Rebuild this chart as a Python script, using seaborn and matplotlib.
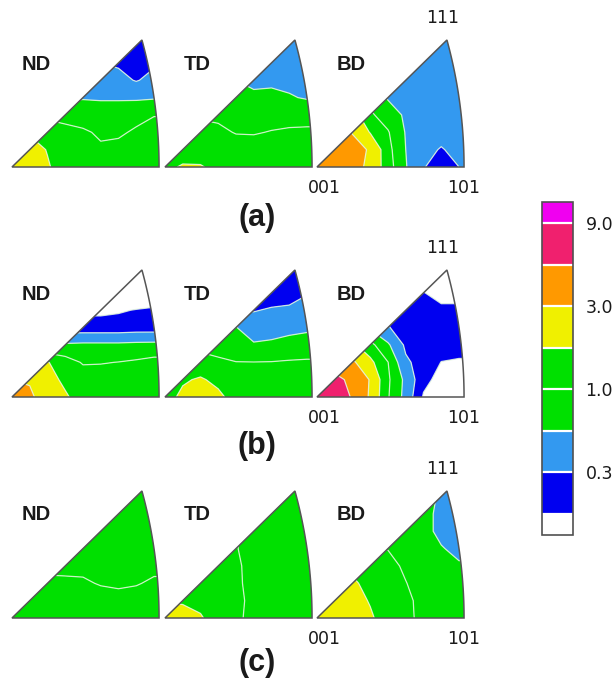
import numpy as np
import matplotlib
matplotlib.use("Agg")
import matplotlib.pyplot as plt
from matplotlib.patches import Polygon
import seaborn as sns

sns.set_theme(style="white")
plt.rcParams["font.family"] = ["Liberation Sans", "DejaVu Sans"]

# grid of the stereographic triangle (x along 001-101, y up to 111)
grid_x = [0.0, 0.05, 0.10, 0.15, 0.20, 0.25, 0.30, 0.35, 0.40, 0.45]
grid_y = [0.0, 0.05, 0.10, 0.15, 0.20, 0.25, 0.30, 0.35, 0.40]

levels = [0.17, 0.3, 0.55, 1.0, 1.7, 3.0, 5.2, 9.0]
level_colors = ["#ffffff", "#0000f0", "#3399f0", "#00e000", "#00e000",
                "#f0f000", "#ff9900", "#f0206e", "#f000f0"]
tick_values = [0.3, 1.0, 3.0, 9.0]
tick_labels = ["0.3", "1.0", "3.0", "9.0"]
row_labels = ["(a)", "(b)", "(c)"]
dir_labels = ["ND", "TD", "BD"]

# intensities, rows from y=0 upward
a_nd = [[2.5, 2.3, 1.8, 1.3, 1.2, 1.2, 1.2, 1.2, 1.1, 1.1],
        [2.5, 2.2, 1.65, 1.3, 1.2, 1.05, 1.1, 1.15, 1.2, 1.2],
        [1.6, 1.6, 1.3, 1.1, 1.05, 0.95, 0.95, 1.05, 1.1, 1.1],
        [0.9, 0.9, 0.9, 0.9, 0.85, 0.85, 0.85, 0.9, 0.99, 0.99],
        [0.5, 0.5, 0.5, 0.5, 0.52, 0.5, 0.5, 0.5, 0.52, 0.52],
        [0.4, 0.4, 0.4, 0.4, 0.4, 0.4, 0.35, 0.29, 0.35, 0.35],
        [0.3, 0.3, 0.3, 0.3, 0.3, 0.3, 0.28, 0.25, 0.28, 0.28],
        [0.22, 0.22, 0.22, 0.22, 0.22, 0.22, 0.22, 0.22, 0.22, 0.22],
        [0.22, 0.22, 0.22, 0.22, 0.22, 0.22, 0.22, 0.22, 0.22, 0.22]]
a_td = [[1.5, 1.8, 1.8, 1.4, 1.3, 1.3, 1.3, 1.3, 1.3, 1.3],
        [1.3, 1.3, 1.2, 1.2, 1.2, 1.2, 1.2, 1.2, 1.2, 1.2],
        [1.15, 1.15, 1.15, 1.08, 0.98, 0.97, 1.02, 1.04, 1.05, 1.05],
        [0.95, 0.95, 0.95, 0.93, 0.85, 0.85, 0.85, 0.9, 0.9, 0.9],
        [0.75, 0.75, 0.75, 0.75, 0.75, 0.62, 0.62, 0.58, 0.52, 0.5],
        [0.55, 0.55, 0.55, 0.55, 0.55, 0.48, 0.5, 0.47, 0.42, 0.42],
        [0.42, 0.42, 0.42, 0.42, 0.42, 0.42, 0.42, 0.42, 0.42, 0.42],
        [0.38, 0.38, 0.38, 0.38, 0.38, 0.38, 0.38, 0.38, 0.38, 0.38],
        [0.36, 0.36, 0.36, 0.36, 0.36, 0.36, 0.36, 0.36, 0.36, 0.36]]
a_bd = [[4.5, 4.3, 3.8, 2.6, 1.3, 0.57, 0.32, 0.18, 0.3, 0.4],
        [4.5, 4.2, 3.4, 2.9, 1.2, 0.55, 0.4, 0.28, 0.4, 0.42],
        [4.0, 4.0, 2.95, 1.65, 1.05, 0.53, 0.42, 0.42, 0.42, 0.42],
        [2.2, 2.2, 2.2, 1.1, 0.75, 0.5, 0.42, 0.42, 0.42, 0.42],
        [0.8, 0.8, 0.8, 0.8, 0.52, 0.45, 0.42, 0.42, 0.42, 0.42],
        [0.42, 0.42, 0.42, 0.42, 0.42, 0.42, 0.42, 0.42, 0.42, 0.42],
        [0.42, 0.42, 0.42, 0.42, 0.42, 0.42, 0.42, 0.42, 0.42, 0.42],
        [0.42, 0.42, 0.42, 0.42, 0.42, 0.42, 0.42, 0.42, 0.42, 0.42],
        [0.42, 0.42, 0.42, 0.42, 0.42, 0.42, 0.42, 0.42, 0.42, 0.42]]
b_nd = [[4.0, 3.3, 2.3, 1.8, 1.4, 1.35, 1.35, 1.35, 1.35, 1.35],
        [3.0, 2.85, 2.0, 1.55, 1.35, 1.3, 1.3, 1.3, 1.3, 1.3],
        [1.75, 1.75, 1.75, 1.3, 0.95, 0.97, 1.01, 1.08, 1.2, 1.2],
        [0.6, 0.6, 0.6, 0.6, 0.62, 0.62, 0.62, 0.64, 0.65, 0.65],
        [0.22, 0.22, 0.22, 0.22, 0.22, 0.22, 0.22, 0.23, 0.23, 0.23],
        [0.15, 0.15, 0.15, 0.15, 0.15, 0.15, 0.16, 0.175, 0.19, 0.2],
        [0.1, 0.1, 0.1, 0.1, 0.1, 0.1, 0.1, 0.1, 0.1, 0.1],
        [0.08, 0.08, 0.08, 0.08, 0.08, 0.08, 0.08, 0.08, 0.08, 0.08],
        [0.08, 0.08, 0.08, 0.08, 0.08, 0.08, 0.08, 0.08, 0.08, 0.08]]
b_td = [[1.4, 1.9, 2.0, 1.9, 1.4, 1.3, 1.3, 1.3, 1.3, 1.3],
        [1.3, 1.6, 1.8, 1.5, 1.3, 1.25, 1.25, 1.25, 1.25, 1.25],
        [1.3, 1.3, 1.25, 1.1, 1.02, 1.01, 1.02, 1.06, 1.08, 1.08],
        [0.85, 0.85, 0.85, 0.8, 0.58, 0.58, 0.6, 0.65, 0.7, 0.7],
        [0.6, 0.6, 0.6, 0.6, 0.56, 0.42, 0.45, 0.48, 0.5, 0.5],
        [0.5, 0.5, 0.5, 0.5, 0.3, 0.29, 0.32, 0.33, 0.38, 0.38],
        [0.3, 0.3, 0.3, 0.3, 0.3, 0.25, 0.22, 0.24, 0.29, 0.3],
        [0.2, 0.2, 0.2, 0.2, 0.2, 0.2, 0.2, 0.2, 0.2, 0.2],
        [0.2, 0.2, 0.2, 0.2, 0.2, 0.2, 0.2, 0.2, 0.2, 0.2]]
b_bd = [[7.5, 6.8, 5.0, 2.8, 1.05, 0.45, 0.16, 0.1, 0.1, 0.1],
        [7.0, 6.0, 4.6, 2.9, 1.1, 0.47, 0.2, 0.14, 0.13, 0.13],
        [4.0, 4.0, 3.3, 1.95, 1.01, 0.33, 0.24, 0.168, 0.16, 0.16],
        [1.9, 1.9, 1.9, 1.2, 0.6, 0.27, 0.23, 0.22, 0.21, 0.21],
        [0.5, 0.5, 0.5, 0.5, 0.31, 0.24, 0.23, 0.22, 0.22, 0.22],
        [0.26, 0.26, 0.26, 0.26, 0.26, 0.24, 0.22, 0.2, 0.2, 0.2],
        [0.22, 0.22, 0.22, 0.22, 0.22, 0.22, 0.175, 0.13, 0.13, 0.13],
        [0.1, 0.1, 0.1, 0.1, 0.1, 0.1, 0.1, 0.1, 0.1, 0.1],
        [0.1, 0.1, 0.1, 0.1, 0.1, 0.1, 0.1, 0.1, 0.1, 0.1]]
c_nd = [[1.3, 1.3, 1.3, 1.3, 1.3, 1.3, 1.3, 1.3, 1.3, 1.3],
        [1.2, 1.2, 1.2, 1.2, 1.2, 1.2, 1.2, 1.2, 1.2, 1.2],
        [1.1, 1.1, 1.1, 1.08, 1.06, 0.97, 0.92, 0.97, 1.07, 1.07],
        [0.9, 0.9, 0.9, 0.9, 0.9, 0.9, 0.9, 0.9, 0.9, 0.9],
        [0.8, 0.8, 0.8, 0.8, 0.8, 0.8, 0.8, 0.8, 0.8, 0.8],
        [0.75, 0.75, 0.75, 0.75, 0.75, 0.75, 0.75, 0.75, 0.75, 0.75],
        [0.7, 0.7, 0.7, 0.7, 0.7, 0.7, 0.7, 0.7, 0.7, 0.7],
        [0.7, 0.7, 0.7, 0.7, 0.7, 0.7, 0.7, 0.7, 0.7, 0.7],
        [0.7, 0.7, 0.7, 0.7, 0.7, 0.7, 0.7, 0.7, 0.7, 0.7]]
c_td = [[2.3, 2.1, 1.8, 1.3, 1.05, 0.93, 0.9, 0.88, 0.88, 0.88],
        [1.65, 1.6, 1.45, 1.25, 1.05, 0.95, 0.9, 0.9, 0.9, 0.9],
        [1.35, 1.35, 1.3, 1.2, 1.03, 0.95, 0.9, 0.88, 0.88, 0.88],
        [1.25, 1.25, 1.25, 1.15, 1.03, 0.94, 0.9, 0.88, 0.88, 0.88],
        [1.1, 1.1, 1.1, 1.1, 1.01, 0.93, 0.9, 0.9, 0.9, 0.9],
        [1.05, 1.05, 1.05, 1.05, 1.02, 0.92, 0.9, 0.9, 0.9, 0.9],
        [0.9, 0.9, 0.9, 0.9, 0.9, 0.9, 0.9, 0.9, 0.9, 0.9],
        [0.9, 0.9, 0.9, 0.9, 0.9, 0.9, 0.9, 0.9, 0.9, 0.9],
        [0.9, 0.9, 0.9, 0.9, 0.9, 0.9, 0.9, 0.9, 0.9, 0.9]]
c_bd = [[2.5, 2.3, 2.1, 1.8, 1.4, 1.1, 0.9, 0.85, 0.85, 0.85],
        [2.4, 2.2, 2.0, 1.65, 1.35, 1.08, 0.9, 0.85, 0.8, 0.8],
        [2.1, 2.1, 1.85, 1.45, 1.2, 1.01, 0.88, 0.78, 0.72, 0.72],
        [1.5, 1.5, 1.5, 1.25, 1.1, 0.95, 0.85, 0.7, 0.6, 0.6],
        [1.1, 1.1, 1.1, 1.1, 0.99, 0.88, 0.75, 0.58, 0.45, 0.45],
        [0.95, 0.95, 0.95, 0.95, 0.95, 0.85, 0.7, 0.45, 0.42, 0.42],
        [0.8, 0.8, 0.8, 0.8, 0.8, 0.8, 0.7, 0.45, 0.42, 0.42],
        [0.7, 0.7, 0.7, 0.7, 0.7, 0.7, 0.7, 0.5, 0.45, 0.45],
        [0.8, 0.8, 0.8, 0.8, 0.8, 0.8, 0.7, 0.5, 0.45, 0.45]]

sectors = [[a_nd, a_td, a_bd], [b_nd, b_td, b_bd], [c_nd, c_td, c_bd]]

W, H = 615, 679
SX, SY = 355, 347          # pixels per stereographic unit
X0 = [12, 165, 317]        # 001 corner of each column, px
YB = [167, 397, 618]       # bottom edge of each row, px
XLIM, YLIM = (-0.03, 0.45), (-0.03, 0.40)


def triangle_vertices():
    phi = np.linspace(0, np.radians(15), 40)
    arc = np.column_stack([-1 + np.sqrt(2) * np.cos(phi), np.sqrt(2) * np.sin(phi)])
    return np.vstack([[0.0, 0.0], arc])


def draw_sector(fig, values, x0, yb):
    left = x0 + XLIM[0] * SX
    bottom = yb - YLIM[0] * SY
    ax = fig.add_axes([left / W, 1 - bottom / H,
                       (XLIM[1] - XLIM[0]) * SX / W, (YLIM[1] - YLIM[0]) * SY / H])
    ax.set_xlim(*XLIM)
    ax.set_ylim(*YLIM)
    ax.axis("off")

    patch = Polygon(triangle_vertices(), closed=True, facecolor="none",
                    edgecolor="#555555", lw=1.1, zorder=5)
    ax.add_patch(patch)

    gx, gy = np.meshgrid(grid_x, grid_y)
    z = np.log(np.array(values))
    cs = ax.contourf(gx, gy, z, levels=np.log(levels), colors=level_colors,
                     extend="both", antialiased=True)
    cs.set_clip_path(patch)
    cl = ax.contour(gx, gy, z, levels=np.log(levels), colors="#e4f6df",
                    linewidths=0.9, alpha=0.85, linestyles="solid",
                    negative_linestyles="solid")
    cl.set_clip_path(patch)
    return cs


fig = plt.figure(figsize=(W / 100, H / 100), dpi=100)

cs = None
for r, row in enumerate(sectors):
    for c, values in enumerate(row):
        cs = draw_sector(fig, values, X0[c], YB[r])

label_x = [36, 197, 351]
label_kw = dict(ha="center", va="center", color="#1a1a1a")
num_kw = dict(ha="center", va="center", color="#1a1a1a", fontsize=12.5,
              family=["DejaVu Sans"])
row_label_y = [218, 446, 663]
for r in range(3):
    yb = YB[r]
    for c in range(3):
        fig.text(label_x[c] / W, 1 - (yb - 103) / H, dir_labels[c],
                 fontsize=14.5, fontweight="bold", **label_kw)
    fig.text(443 / W, 1 - (yb - 149) / H, "111", **num_kw)
    fig.text(324 / W, 1 - (yb + 21) / H, "001", **num_kw)
    fig.text(464 / W, 1 - (yb + 21) / H, "101", **num_kw)
    fig.text(257 / W, 1 - row_label_y[r] / H, row_labels[r],
             fontsize=22, fontweight="bold", **label_kw)

# colour scale
cax = fig.add_axes([542 / W, 1 - 535 / H, 31 / W, 333 / H])
cb = fig.colorbar(cs, cax=cax, extendrect=True, extendfrac=0.072, drawedges=True)
cb.set_ticks(np.log(tick_values))
cb.set_ticklabels(tick_labels)
cb.ax.tick_params(length=0, pad=9, labelsize=12.5)
for t in cb.ax.get_yticklabels():
    t.set_family(["DejaVu Sans"])
    t.set_color("#1a1a1a")
cb.outline.set_edgecolor("#505050")
cb.outline.set_linewidth(1.2)
cb.dividers.set_color("white")
cb.dividers.set_linewidth(1.6)

fig.savefig("out.png", dpi=100)
